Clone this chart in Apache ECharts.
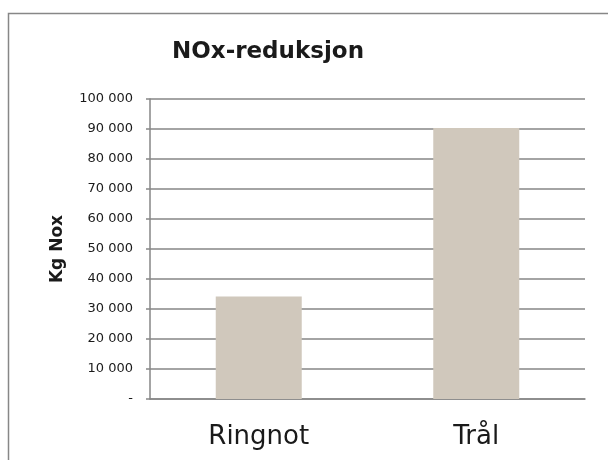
<!DOCTYPE html>
<html><head><meta charset="utf-8">
<script src="https://cdn.jsdelivr.net/npm/echarts@6/dist/echarts.min.js"></script>
<style>html,body{margin:0;padding:0;background:#fff}#c{width:608px;height:460px}</style>
</head><body><div id="c"></div>
<script>
const categories = ["Ringnot", "Trål"];
const values = [34200, 90300];
const yTicks = [0, 10000, 20000, 30000, 40000, 50000, 60000, 70000, 80000, 90000, 100000];
const titleText = "NOx-reduksjon";
const yName = "Kg Nox";

function fmt(v){
  if (v === 0) return "-";
  return String(v).replace(/\B(?=(\d{3})+(?!\d))/g, " ");
}
const chart = echarts.init(document.getElementById('c'), null, {renderer:'canvas'});
chart.setOption({
  animation:false,
  backgroundColor:'#fff',
  graphic:[{type:'rect', shape:{x:8.5,y:13.5,width:700,height:600}, style:{fill:'none',stroke:'#878787',lineWidth:1.5}, silent:true}],
  title:{text:titleText, left:263, textAlign:'center', top:36,
    textStyle:{fontFamily:'DejaVu Sans', fontWeight:'bold', fontSize:23, color:'#1a1a1a'}},
  grid:{left:150, right:23, top:99, bottom:61, containLabel:false},
  xAxis:{type:'category', data:categories,
    axisLine:{lineStyle:{color:'#868686', width:1.5}},
    axisTick:{show:false},
    axisLabel:{fontFamily:'DejaVu Sans', fontSize:26, color:'#1a1a1a', margin:25}},
  yAxis:{type:'value', min:yTicks[0], max:yTicks[yTicks.length-1], interval:yTicks[1]-yTicks[0],
    name:yName, nameLocation:'middle', nameGap:84,
    nameTextStyle:{fontFamily:'DejaVu Sans', fontWeight:'bold', fontSize:17, color:'#1a1a1a'},
    axisLine:{show:true, lineStyle:{color:'#868686', width:1.5}},
    axisTick:{show:true, length:4, lineStyle:{color:'#868686', width:1.5}},
    splitLine:{lineStyle:{color:'#868686', width:1.5}},
    axisLabel:{fontFamily:'DejaVu Sans', fontSize:13, color:'#1a1a1a', margin:17, formatter:fmt}},
  series:[{type:'bar', data:values, barWidth:86, itemStyle:{color:'#D0C8BC'}}]
});
</script></body></html>
